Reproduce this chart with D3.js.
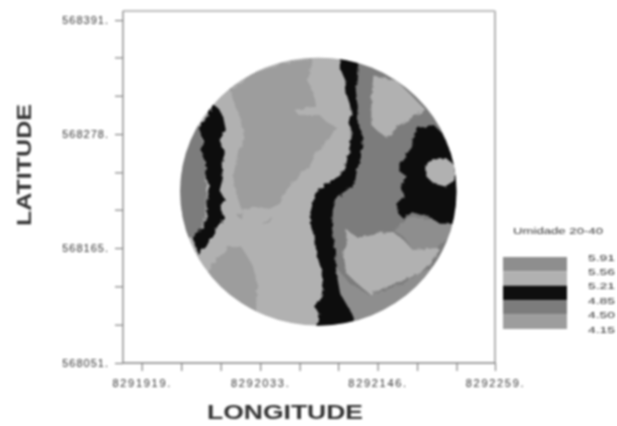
<!DOCTYPE html>
<html><head><meta charset="utf-8">
<script src="https://cdn.jsdelivr.net/npm/d3@7"></script>
<style>html,body{margin:0;padding:0;background:#fff}svg{display:block}</style>
</head><body><div id="c"></div>
<script>
const lonTicks=[8291919,8292033,8292146,8292259];
const latTicks=[568051,568165,568278,568391];
const lonMinor=[8291957,8291995,8292071,8292108,8292184,8292222];
const latMinor=[568089,568127,568203,568240,568316,568354];
const originLon=8291900, originLat=568000;
const siteCentre=[189,221], siteRadius=133;
const legendBreaks=[5.91,5.56,5.21,4.85,4.50,4.15];
const legendTitle="Umidade 20-40";
const shades={a:"#8e8e8e",b:"#b1b1b1",c:"#0f0f0f",d:"#7c7c7c",e:"#9d9d9d"};
const legendShades=["a","b","c","d","e"];
// zones: east/north offsets from the origin
const zoneUpperLeft=[[104,322],[126,338],[155,348],[184,353],[179,331],[184,318],[187,305],[166,302],[170,297],[190,297],[197,290],[206,285],[200,274],[187,259],[181,247],[168,234],[158,222],[152,209],[142,204],[126,206],[115,203],[109,222],[107,236],[112,262],[118,272],[115,292],[107,312]];
const zoneIsland=[[136,188],[144,196],[142,189]];
const zoneIslandB=[[110,198],[116,201],[113,195]];
const zoneWest=[[75,285],[80,252],[81,222],[80,196],[73,176],[40,170],[40,280],[65,300]];
const zoneWestBand=[[88,307],[80,292],[74,284],[78,272],[76,262],[81,249],[80,239],[84,226],[81,213],[82,199],[78,186],[68,175],[73,159],[81,166],[86,176],[93,188],[99,194],[94,206],[99,213],[94,222],[97,234],[96,249],[99,259],[94,272],[100,282],[97,297],[93,303]];
const zoneSouthWest=[[88,150],[102,166],[115,166],[121,156],[126,147],[130,130],[129,100],[95,110],[80,140]];
const zoneEastDark=[[220,358],[300,358],[340,250],[340,100],[224,80],[200,100],[200,210],[220,240],[220,340]];
const zoneNorthEast=[[242,336],[264,331],[277,318],[292,302],[277,293],[267,287],[255,274],[245,282],[240,287],[240,315]];
const zoneEastMid=[[261,183],[277,196],[296,193],[316,190],[330,186],[312,173],[303,163],[280,163],[271,176]];
const zoneSouthEast=[[206,146],[219,130],[239,118],[271,130],[303,150],[310,120],[239,80],[213,80]];
const zoneSouthLight=[[216,183],[226,176],[245,180],[261,181],[271,173],[280,163],[303,165],[306,163],[296,150],[287,140],[271,133],[251,125],[240,118],[226,130],[216,140],[213,160],[216,173]];
const zoneCentreBand=[[208,358],[227,358],[227,346],[225,322],[227,305],[226,292],[232,275],[230,255],[226,241],[224,229],[216,222],[207,216],[203,203],[202,186],[205,163],[206,143],[210,120],[224,95],[224,80],[187,80],[187,88],[190,100],[185,107],[192,118],[194,130],[192,143],[187,160],[186,173],[182,186],[181,199],[186,219],[197,229],[210,237],[216,249],[219,265],[222,279],[218,289],[221,302],[216,318],[215,331],[210,343]];
const zoneEastBlob=[[284,284],[300,287],[308,279],[317,259],[340,259],[340,189],[306,189],[296,196],[280,201],[271,194],[266,199],[264,209],[271,216],[269,226],[274,236],[267,241],[267,249],[279,265],[280,275]];
const zoneEastLight=[[292,247],[300,254],[312,254],[320,247],[320,232],[311,226],[300,229],[292,237]];
const zones=[
 {pts:zoneUpperLeft,s:"e"},{pts:zoneIsland,s:"e"},{pts:zoneIslandB,s:"e"},{pts:zoneWest,s:"d"},{pts:zoneSouthWest,s:"e"},
 {pts:zoneEastDark,s:"d"},{pts:zoneNorthEast,s:"b"},{pts:zoneEastMid,s:"a"},{pts:zoneSouthEast,s:"a"},
 {pts:zoneSouthLight,s:"b"},{pts:zoneWestBand,s:"c"},{pts:zoneCentreBand,s:"c"},{pts:zoneEastBlob,s:"c"},{pts:zoneEastLight,s:"b"}
];
const W=617,H=426;
const x=d3.scaleLinear().domain([8291901,8292259]).range([123,495]);
const y=d3.scaleLinear().domain([568051,568400]).range([363,11]);
const svg=d3.select("#c").append("svg").attr("width",W).attr("height",H).style("filter","blur(0.9px)");
const defs=svg.append("defs");
const f=defs.append("filter").attr("id","rough").attr("x","-5%").attr("y","-5%").attr("width","110%").attr("height","110%");
f.append("feTurbulence").attr("type","fractalNoise").attr("baseFrequency",0.18).attr("numOctaves",2).attr("seed",4).attr("result","n");
f.append("feDisplacementMap").attr("in","SourceGraphic").attr("in2","n").attr("scale",5);
const cx=x(originLon+siteCentre[0]),cy=y(originLat+siteCentre[1]);
const rx=x(originLon+siteCentre[0]+siteRadius)-cx, ry=cy-y(originLat+siteCentre[1]+siteRadius);
defs.append("clipPath").attr("id","site").append("ellipse").attr("cx",cx).attr("cy",cy).attr("rx",rx).attr("ry",ry);
const line=d3.line().x(d=>x(originLon+d[0])).y(d=>y(originLat+d[1])).curve(d3.curveLinearClosed);
const map=svg.append("g").attr("clip-path","url(#site)");
map.append("rect").attr("x",cx-rx).attr("y",cy-ry).attr("width",2*rx).attr("height",2*ry).attr("fill",shades.b);
map.append("g").attr("filter","url(#rough)").selectAll("path").data(zones).join("path").attr("d",d=>line(d.pts)).attr("fill",d=>shades[d.s]);
// frame
svg.append("g").attr("fill","none").selectAll("line").data([
 {x1:123,y1:11,x2:495,y2:11,c:"#a8a8a8",w:1.6},{x1:495,y1:11,x2:495,y2:363,c:"#b4b4b4",w:2},
 {x1:123,y1:11,x2:123,y2:363,c:"#808080",w:1.3},{x1:123,y1:363,x2:495,y2:363,c:"#808080",w:1.3}
]).join("line").attr("x1",d=>d.x1).attr("y1",d=>d.y1).attr("x2",d=>d.x2).attr("y2",d=>d.y2).attr("stroke",d=>d.c).attr("stroke-width",d=>d.w);
const xAxis=d3.axisBottom(x).tickValues(lonTicks.concat(lonMinor)).tickSize(8).tickPadding(8).tickFormat(d=>lonTicks.includes(d)?d+".":"");
const yAxis=d3.axisLeft(y).tickValues(latTicks.concat(latMinor)).tickSize(8).tickPadding(6).tickFormat(d=>latTicks.includes(d)?d+".":"");
function style(g){g.select(".domain").remove();g.selectAll("line").attr("stroke","#808080").attr("stroke-width",1.2);
 g.selectAll("text").attr("font-family","Liberation Sans").attr("font-size",11).attr("fill","#333").attr("letter-spacing",1);}
svg.append("g").attr("transform","translate(0,363)").call(xAxis).call(style).selectAll("text").attr("letter-spacing",1.7);
svg.append("g").attr("transform","translate(123,0)").call(yAxis).call(style);
svg.append("text").text("LONGITUDE").attr("x",207).attr("y",419).attr("textLength",156).attr("lengthAdjust","spacingAndGlyphs")
 .attr("font-family","Liberation Sans").attr("font-weight","bold").attr("font-size",20).attr("fill","#333");
svg.append("text").text("LATITUDE").attr("transform","translate(31,226) rotate(-90)").attr("textLength",122).attr("lengthAdjust","spacingAndGlyphs")
 .attr("font-family","Liberation Sans").attr("font-weight","bold").attr("font-size",21).attr("fill","#333");
// legend
const ly=d3.scaleLinear().domain([4.15,5.91]).range([329,257]);
const lg=svg.append("g");
lg.selectAll("rect").data(legendShades).join("rect").attr("x",503).attr("width",64)
 .attr("y",(d,i)=>ly(legendBreaks[i])).attr("height",(d,i)=>ly(legendBreaks[i+1])-ly(legendBreaks[i])).attr("fill",d=>shades[d]);
lg.selectAll("text.v").data(legendBreaks).join("text").attr("class","v").attr("x",588).attr("y",d=>ly(d)+3.5)
 .attr("textLength",27).attr("lengthAdjust","spacingAndGlyphs").text(d=>d.toFixed(2))
 .attr("font-family","Liberation Sans").attr("font-size",9.5).attr("fill","#333");
lg.append("text").text(legendTitle).attr("x",513).attr("y",234).attr("textLength",90).attr("lengthAdjust","spacingAndGlyphs")
 .attr("font-family","Liberation Sans").attr("font-size",9.5).attr("fill","#333");
</script></body></html>
